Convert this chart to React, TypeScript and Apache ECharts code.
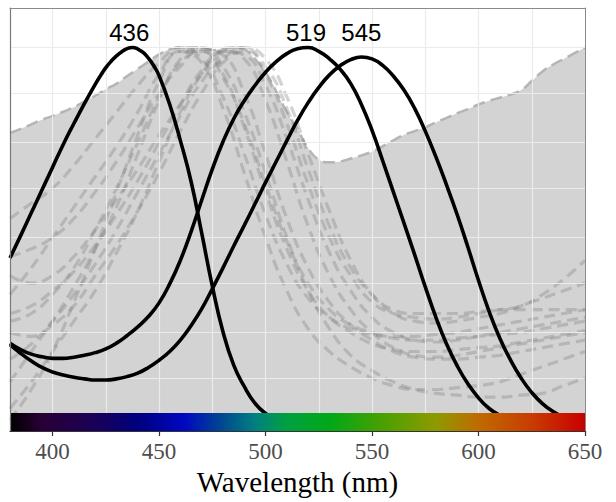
import React, { useEffect, useRef } from "react";
import * as echarts from "echarts";

// ---------- data ----------
const wl5 = [380,385,390,395,400,405,410,415,420,425,430,435,440,445,450,455,460,465,470,475,480,485,490,495,500,505,510,515,520,525,530,535,540,545,550,555,560,565,570,575,580,585,590,595,600,605,610,615,620,625,630,635,640,645,650];
const wl10 = [380,390,400,410,420,430,440,450,460,470,480,490,500,510,520,530,540,550,560,570,580,590,600,610,620,630,640,650];
const wlS = [380,385,390,395,400,405,410,415,420,422.5,425,427.5,430,432.5,435,437.5,440,442.5,445,447.5,450,455,460,465,470,475,480,485,490,495,500,505,510,515,520];

// grey envelope (filled area)
const envelope = [0.775,0.786,0.798,0.81,0.82,0.831,0.843,0.858,0.873,0.89,0.905,0.925,0.944,0.963,0.982,0.995,1.0,1.0,1.0,0.993,0.998,1.0,0.995,0.97,0.935,0.885,0.83,0.785,0.735,0.705,0.698,0.7,0.708,0.716,0.726,0.74,0.756,0.77,0.78,0.79,0.803,0.815,0.827,0.838,0.85,0.86,0.868,0.876,0.888,0.912,0.937,0.955,0.97,0.985,1.0];

// black pigment curves, 436 / 519 / 545 nm
const sCone = [0.446,0.505,0.565,0.625,0.685,0.745,0.8,0.853,0.903,0.926,0.947,0.964,0.978,0.989,0.997,1.0,0.996,0.987,0.972,0.952,0.926,0.85,0.755,0.648,0.512,0.372,0.252,0.165,0.108,0.064,0.037,0.021,0.011,0.006,0.003];
const mCone = [0.222,0.205,0.193,0.186,0.182,0.182,0.185,0.19,0.197,0.207,0.222,0.242,0.265,0.292,0.328,0.378,0.44,0.515,0.598,0.68,0.752,0.812,0.86,0.9,0.935,0.963,0.984,0.997,1.0,0.99,0.97,0.943,0.905,0.85,0.782,0.702,0.62,0.538,0.455,0.37,0.29,0.22,0.162,0.115,0.078,0.05,0.032,0.02,0.012,0.007,0.004];
const lCone = [0.218,0.195,0.175,0.158,0.146,0.138,0.132,0.128,0.125,0.125,0.128,0.134,0.143,0.158,0.177,0.2,0.23,0.268,0.312,0.365,0.42,0.477,0.532,0.588,0.645,0.7,0.755,0.808,0.855,0.895,0.928,0.952,0.968,0.975,0.97,0.953,0.925,0.888,0.84,0.78,0.712,0.638,0.56,0.475,0.387,0.305,0.235,0.178,0.13,0.092,0.063,0.042,0.027,0.017,0.011];
const peakNm = [436, 519, 545];

// grey dashed comparison curves (10 nm steps)
const dashP1 = [0.55,0.59,0.63,0.69,0.76,0.83,0.9,0.96,1.0,0.97,0.87,0.72,0.56,0.43,0.34,0.29,0.26,0.245,0.24,0.24,0.245,0.25,0.26,0.27,0.28,0.29,0.3,0.31];
const dashP2 = [0.35,0.42,0.5,0.58,0.66,0.74,0.83,0.93,0.99,0.99,0.92,0.8,0.64,0.49,0.38,0.31,0.27,0.25,0.235,0.23,0.23,0.235,0.24,0.245,0.25,0.26,0.27,0.28];
const dashP3 = [0.12,0.2,0.28,0.37,0.47,0.58,0.72,0.86,0.97,1.0,0.95,0.83,0.67,0.5,0.36,0.26,0.19,0.15,0.12,0.1,0.09,0.085,0.08,0.08,0.085,0.09,0.11,0.13];
const dashP4 = [0.28,0.3,0.35,0.42,0.52,0.63,0.75,0.87,0.96,0.99,0.93,0.79,0.62,0.47,0.36,0.29,0.25,0.22,0.205,0.2,0.2,0.205,0.21,0.215,0.225,0.235,0.245,0.255];
const dashQ1 = [0.4,0.38,0.4,0.45,0.52,0.6,0.68,0.77,0.85,0.93,0.99,1.0,0.93,0.8,0.64,0.5,0.4,0.33,0.3,0.29,0.285,0.29,0.3,0.31,0.32,0.35,0.39,0.44];
const dashQ2 = [0.25,0.24,0.27,0.32,0.4,0.48,0.57,0.67,0.78,0.88,0.96,0.99,0.95,0.84,0.68,0.53,0.42,0.35,0.31,0.3,0.3,0.3,0.305,0.31,0.31,0.31,0.31,0.31];
const dashQ3 = [0.05,0.12,0.2,0.28,0.36,0.46,0.57,0.7,0.83,0.93,0.99,0.97,0.86,0.7,0.53,0.4,0.31,0.25,0.21,0.19,0.185,0.19,0.2,0.21,0.22,0.23,0.24,0.25];
const dashQ4 = [0.18,0.22,0.28,0.35,0.43,0.52,0.62,0.72,0.82,0.91,0.97,1.0,0.97,0.87,0.72,0.57,0.44,0.35,0.3,0.28,0.275,0.28,0.29,0.3,0.32,0.34,0.36,0.38];
const dashR1 = [0.45,0.47,0.5,0.55,0.62,0.7,0.79,0.88,0.95,0.995,0.98,0.88,0.72,0.55,0.42,0.33,0.27,0.23,0.2,0.185,0.18,0.18,0.185,0.19,0.2,0.21,0.22,0.23];
const dashR2 = [0.02,0.1,0.2,0.33,0.47,0.62,0.77,0.91,0.99,0.96,0.84,0.67,0.5,0.36,0.26,0.2,0.16,0.13,0.11,0.1,0.1,0.105,0.11,0.12,0.14,0.16,0.18,0.2];
const dashR3 = [0.3,0.32,0.36,0.41,0.48,0.56,0.65,0.75,0.85,0.94,0.99,0.98,0.9,0.76,0.6,0.46,0.36,0.29,0.25,0.23,0.225,0.23,0.24,0.25,0.26,0.27,0.28,0.29];
const dashCurves = [dashP1, dashP2, dashP3, dashP4, dashQ1, dashQ2, dashQ3, dashQ4, dashR1, dashR2, dashR3];

// axis ticks and grid
const xTicks = [400, 450, 500, 550, 600, 650];
const xGrid = [400, 425, 450, 475, 500, 525, 550, 575, 600, 625];
const yGrid = [0.125, 0.25, 0.375, 0.5, 0.625, 0.75, 0.875, 1.0];

// spectrum colour bar stops (wavelength, colour)
const spectrumNm = [380, 395, 420, 440, 462, 480, 495, 510, 530, 555, 580, 600, 625, 650];
const spectrumCol = ["#000000", "#280036", "#1a0058", "#00007e", "#0008c0", "#004a90", "#008080", "#00a040", "#00a818", "#4aa000", "#8e9a00", "#c06a00", "#c83c00", "#c80000"];

const X_MIN = 380, X_MAX = 650;
const Y_MIN = -0.0092, Y_MAX = 1.104;
const BAR_TOP = 0.038;

const pair = (xs: number[], ys: number[]) => ys.map((y, i) => [xs[i], y]);

export default function App() {
  const ref = useRef<HTMLDivElement>(null);
  useEffect(() => {
    if (!ref.current) return;
    const chart = echarts.init(ref.current, null, { renderer: "svg" });
    const serif = "Liberation Serif";
    const sans = "Liberation Sans";

    const stops = spectrumNm.map((nm, i) => ({ offset: (nm - X_MIN) / (X_MAX - X_MIN), color: spectrumCol[i] }));

    const blackData = [pair(wlS, sCone), pair(wl5, mCone), pair(wl5, lCone)];
    const blackSeries = blackData.map((d, k) => ({
      type: "line",
      data: d,
      smooth: 0.5,
      symbol: "none",
      z: 5,
      lineStyle: { color: "#000", width: 3.6 },
      markPoint: {
        silent: true,
        symbol: "circle",
        symbolSize: 0,
        data: [{ coord: [peakNm[k], 1.0] }],
        label: {
          show: true,
          position: "top",
          distance: 3,
          formatter: String(peakNm[k]),
          color: "#000",
          fontSize: 24,
          fontFamily: sans,
        },
      },
    }));

    const dashSeries = dashCurves.map((d) => ({
      type: "line",
      data: pair(wl10, d),
      smooth: true,
      symbol: "none",
      z: 4,
      lineStyle: { color: "rgba(125,125,125,0.34)", width: 3.2, type: [11, 6] },
    }));

    const option: any = {
      animation: false,
      grid: { left: 10, right: 31, top: 8, bottom: 71, show: false },
      xAxis: [
        {
          type: "value",
          min: X_MIN,
          max: X_MAX,
          position: "bottom",
          z: 20,
          axisLine: { show: true, onZero: false, lineStyle: { color: "#333", width: 1.2 } },
          axisTick: { show: true, customValues: xTicks, length: 5, lineStyle: { color: "#333", width: 1.2 } },
          axisLabel: {
            show: true,
            customValues: xTicks,
            margin: 9,
            color: "#4d4d4d",
            fontSize: 23,
            fontFamily: serif,
          },
          splitLine: { show: false },
          name: "Wavelength (nm)",
          nameLocation: "middle",
          nameGap: 35,
          nameTextStyle: { color: "#000", fontSize: 29, fontFamily: serif },
        },
        {
          type: "value",
          min: X_MIN,
          max: X_MAX,
          position: "top",
          z: 20,
          axisLine: { show: true, onZero: false, lineStyle: { color: "#8a8a8a", width: 1 } },
          axisTick: { show: false },
          axisLabel: { show: false },
          splitLine: { show: false },
        },
      ],
      yAxis: [
        {
          type: "value",
          min: Y_MIN,
          max: Y_MAX,
          position: "left",
          z: 20,
          axisLine: { show: true, onZero: false, lineStyle: { color: "#7a7a7a", width: 1.2 } },
          axisTick: { show: false },
          axisLabel: { show: false },
          splitLine: { show: false },
        },
        {
          type: "value",
          min: Y_MIN,
          max: Y_MAX,
          position: "right",
          z: 20,
          axisLine: { show: true, onZero: false, lineStyle: { color: "#8a8a8a", width: 1 } },
          axisTick: { show: false },
          axisLabel: { show: false },
          splitLine: { show: false },
        },
      ],
      series: [
        {
          type: "line",
          data: [],
          z: 1,
          markLine: {
            silent: true,
            symbol: ["none", "none"],
            label: { show: false },
            lineStyle: { color: "#ebebeb", width: 1.2, type: "solid" },
            data: [
              ...xGrid.map((v) => ({ xAxis: v })),
              ...yGrid.map((v) => ({ yAxis: v })),
            ],
          },
        },
        {
          type: "line",
          data: pair(wl5, envelope),
          smooth: true,
          symbol: "none",
          z: 2,
          lineStyle: { color: "rgba(175,175,175,0.9)", width: 2.5, type: [12, 6] },
          areaStyle: { color: "#d3d3d3", opacity: 1, origin: "start" },
        },
        ...dashSeries,
        ...blackSeries,
        {
          type: "custom",
          z: 10,
          silent: true,
          data: [[X_MIN, Y_MIN, X_MAX, BAR_TOP]],
          renderItem: (params: any, api: any) => {
            const p0 = api.coord([api.value(0), api.value(3)]);
            const p1 = api.coord([api.value(2), api.value(1)]);
            return {
              type: "rect",
              shape: { x: p0[0], y: p0[1], width: p1[0] - p0[0], height: p1[1] - p0[1] },
              style: {
                fill: new echarts.graphic.LinearGradient(0, 0, 1, 0, stops),
              },
            };
          },
        },
      ],
    };
    chart.setOption(option);
    return () => chart.dispose();
  }, []);
  return (
    <div
      ref={ref}
      style={{ position: "absolute", left: 0, top: 0, width: 616, height: 502 }}
    />
  );
}
